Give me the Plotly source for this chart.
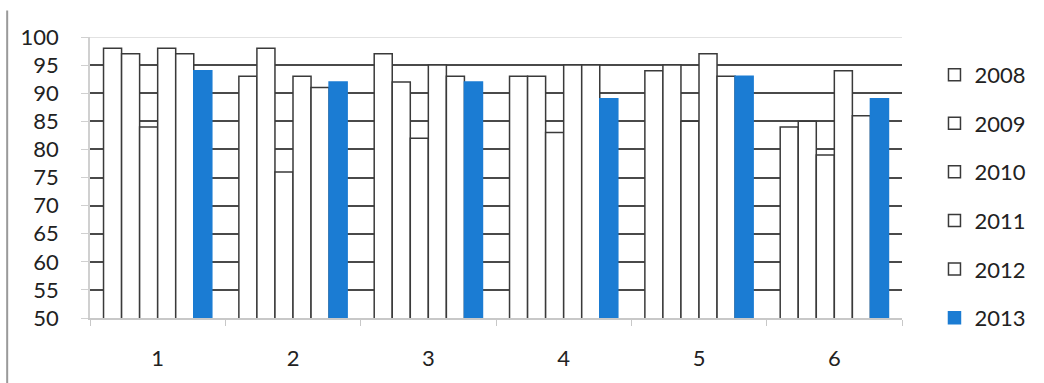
import plotly.graph_objects as go

# Categories and yearly series
categories = ["1", "2", "3", "4", "5", "6"]
years = ["2008", "2009", "2010", "2011", "2012", "2013"]
y2008 = [98, 93, 97, 93, 94, 84]
y2009 = [97, 98, 92, 93, 95, 85]
y2010 = [84, 76, 82, 83, 85, 79]
y2011 = [98, 93, 95, 95, 97, 94]
y2012 = [97, 91, 93, 95, 93, 86]
y2013 = [94, 92, 92, 89, 93, 89]
series = [y2008, y2009, y2010, y2011, y2012, y2013]

y_ticks = [50, 55, 60, 65, 70, 75, 80, 85, 90, 95, 100]

BLUE = "#1b7cd3"
OUTLINE = "#3a3a3a"
FONT = dict(family="Lato, 'Open Sans', sans-serif", size=22, color="#222222")

fig = go.Figure()
for year, vals in zip(years, series):
    is_blue = year == "2013"
    fig.add_trace(go.Bar(
        x=categories,
        y=vals,
        name=year,
        legendgroup=year,
        base=0,
        marker=dict(
            color=BLUE if is_blue else "white",
            line=dict(color=BLUE if is_blue else OUTLINE, width=1.5),
        ),
    ))

# panel frame: left border and a faint top edge at 100
fig.add_shape(type="line", xref="paper", yref="paper",
              x0=-0.102, x1=-0.102, y0=1.094, y1=-0.25,
              line=dict(color="#9a9a9a", width=2))
fig.add_shape(type="line", xref="paper", yref="y",
              x0=0, x1=1, y0=100, y1=100,
              line=dict(color="#e2e2e2", width=2))

fig.update_layout(
    width=1044,
    height=383,
    margin=dict(l=90, r=139, t=37, b=60),
    paper_bgcolor="white",
    plot_bgcolor="white",
    barmode="group",
    bargap=0.2,
    bargroupgap=0,
    font=FONT,
    showlegend=True,
    legend=dict(
        x=1.04, xanchor="left",
        y=0.94, yanchor="top",
        traceorder="grouped",
        tracegroupgap=17,
        maxheight=1000,
        font=FONT,
        bgcolor="rgba(0,0,0,0)",
        itemclick=False,
    ),
    xaxis=dict(
        type="category",
        showgrid=False,
        showline=True,
        linecolor="#c8c8c8",
        linewidth=1.5,
        ticks="outside",
        tickson="boundaries",
        ticklen=6,
        tickcolor="#c8c8c8",
        ticklabelstandoff=20,
        tickfont=FONT,
    ),
    yaxis=dict(
        range=[50, 100],
        tickvals=y_ticks,
        showgrid=True,
        gridcolor="#4a4a4a",
        gridwidth=1.5,
        zeroline=False,
        showline=True,
        linecolor="#d0d0d0",
        linewidth=1.5,
        ticks="outside",
        ticklen=7,
        tickcolor="#d0d0d0",
        ticklabelstandoff=18,
        tickfont=FONT,
    ),
)

fig.write_html("out.html")
